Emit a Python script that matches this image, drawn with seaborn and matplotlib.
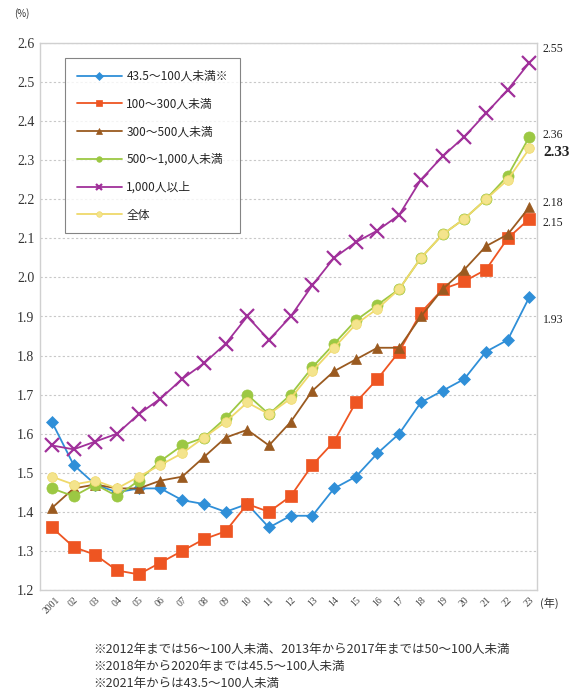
import numpy as np
import pandas as pd
import seaborn as sns
import matplotlib.pyplot as plt

# data
years = list(range(2001, 2024))
year_labels = ['2001'] + ['%02d' % (y % 100) for y in years[1:]]

s_small = [1.63, 1.52, 1.47, 1.45, 1.46, 1.46, 1.43, 1.42, 1.40, 1.42, 1.36, 1.39,
           1.39, 1.46, 1.49, 1.55, 1.60, 1.68, 1.71, 1.74, 1.81, 1.84, 1.95]
s_100_300 = [1.36, 1.31, 1.29, 1.25, 1.24, 1.27, 1.30, 1.33, 1.35, 1.42, 1.40, 1.44,
             1.52, 1.58, 1.68, 1.74, 1.81, 1.91, 1.97, 1.99, 2.02, 2.10, 2.15]
s_300_500 = [1.41, 1.46, 1.47, 1.46, 1.46, 1.48, 1.49, 1.54, 1.59, 1.61, 1.57, 1.63,
             1.71, 1.76, 1.79, 1.82, 1.82, 1.90, 1.97, 2.02, 2.08, 2.11, 2.18]
s_500_1000 = [1.46, 1.44, 1.47, 1.44, 1.48, 1.53, 1.57, 1.59, 1.64, 1.70, 1.65, 1.70,
              1.77, 1.83, 1.89, 1.93, 1.97, 2.05, 2.11, 2.15, 2.20, 2.26, 2.36]
s_1000 = [1.57, 1.56, 1.58, 1.60, 1.65, 1.69, 1.74, 1.78, 1.83, 1.90, 1.84, 1.90,
          1.98, 2.05, 2.09, 2.12, 2.16, 2.25, 2.31, 2.36, 2.42, 2.48, 2.55]
s_total = [1.49, 1.47, 1.48, 1.46, 1.49, 1.52, 1.55, 1.59, 1.63, 1.68, 1.65, 1.69,
           1.76, 1.82, 1.88, 1.92, 1.97, 2.05, 2.11, 2.15, 2.20, 2.25, 2.33]

names = ['43.5～100人未満※', '100～300人未満', '300～500人未満',
         '500～1,000人未満', '1,000人以上', '全体']

end_labels = ['1.93', '2.15', '2.18', '2.36', '2.55', '2.33']
end_label_y = [1.89, 2.14, 2.19, 2.365, 2.585, 2.32]

notes = ['※2012年までは56～100人未満、2013年から2017年までは50～100人未満',
         '※2018年から2020年までは45.5～100人未満',
         '※2021年からは43.5～100人未満']

series = [s_small, s_100_300, s_300_500, s_500_1000, s_1000, s_total]
df = pd.DataFrame({
    'year': years * len(names),
    'rate': sum(series, []),
    'group': np.repeat(names, len(years)),
})

styles = {
    names[0]: dict(color='#2f8fd8', marker='D', ms=6, mfc='#2f8fd8', mew=0.5),
    names[1]: dict(color='#ee5522', marker='s', ms=9, mfc='#ee5522', mew=0.5),
    names[2]: dict(color='#9a5a20', marker='^', ms=7, mfc='#9a5a20', mew=0.5),
    names[3]: dict(color='#9cc843', marker='o', ms=8, mfc='#9cc843', mew=0.5),
    names[4]: dict(color='#a0309a', marker='x', ms=10, mfc='#a0309a', mew=1.6),
    names[5]: dict(color='#efd96a', marker='o', ms=7, mfc='#f4e48c', mew=0.5),
}

sns.set_style('white')
plt.rcParams['font.family'] = ['Noto Sans CJK JP', 'DejaVu Sans']

fig = plt.figure(figsize=(5.76, 6.96), dpi=100)
ax = fig.add_axes([40 / 576, 1 - 590 / 696, 497 / 576, 547 / 696])

for name in names:
    st = styles[name]
    sns.lineplot(data=df[df['group'] == name], x='year', y='rate', ax=ax,
                 color=st['color'], linewidth=1.3, label=name,
                 marker=st['marker'], markersize=st['ms'],
                 markerfacecolor=st['mfc'], markeredgecolor=st['color'],
                 markeredgewidth=st['mew'])

ax.set_ylim(1.2, 2.6)
ax.set_xlim(2000.45, 2023.35)
ax.set_yticks(np.round(np.arange(1.2, 2.61, 0.1), 1))
ax.set_yticklabels(['%.1f' % v for v in np.arange(1.2, 2.61, 0.1)],
                   family='Liberation Serif', fontsize=10, color='#333333')
ax.set_xticks(years)
ax.set_xticklabels(year_labels, rotation=45, fontsize=7, color='#444444',
                   family='Liberation Serif')
ax.tick_params(axis='x', length=3, color='#cccccc', direction='in', pad=4)
ax.tick_params(axis='y', length=0, pad=4)
ax.set_xlabel('')
ax.set_ylabel('')
ax.yaxis.grid(True, linestyle=(0, (2, 2)), color='#c8c8c8', linewidth=0.8)
for side in ['left', 'right', 'bottom', 'top']:
    ax.spines[side].set_color('#d0d0d0')
    ax.spines[side].set_linewidth(1.0)

for lab, yv, name in zip(end_labels, end_label_y, names):
    big = lab == '2.33'
    ax.text(1.012, yv, lab, transform=ax.get_yaxis_transform(), va='center',
            ha='left', family='Liberation Serif',
            fontsize=11 if big else 8.5, fontweight='bold' if big else 'normal',
            color='#222222')

leg = ax.legend(loc='upper left', bbox_to_anchor=(25 / 497, 1 - 15 / 547),
                frameon=True, fancybox=False, fontsize=8.5, labelspacing=1.25,
                handlelength=3.8, borderpad=1.0, borderaxespad=0,
                handletextpad=0.4)
leg.get_frame().set_edgecolor('#666666')
leg.get_frame().set_linewidth(0.8)
for h in leg.legend_handles:
    h.set_markersize(4)

fig.text(14 / 576, 1 - 14 / 696, '(%)', fontsize=7, va='center', color='#333333')
fig.text(540 / 576, 1 - 603 / 696, '(年)', fontsize=8, va='center', color='#333333')

for i, note in enumerate(notes):
    fig.text(93 / 576, 1 - (650 + 16.5 * i) / 696, note, fontsize=9,
             va='center', color='#333333')

fig.savefig('out.png', dpi=100, facecolor='white')
